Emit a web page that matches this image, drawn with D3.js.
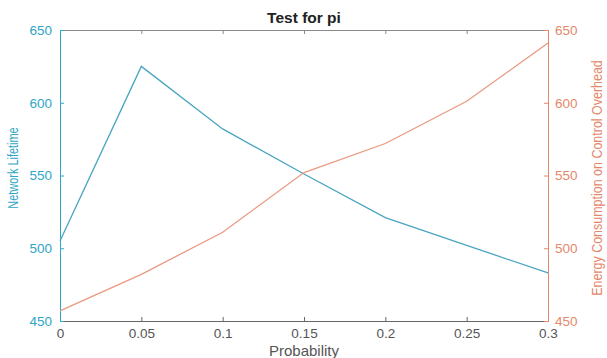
<!DOCTYPE html>
<html>
<head>
<meta charset="utf-8">
<script src="https://cdn.jsdelivr.net/npm/d3@7"></script>
<style>
  body { margin: 0; background: #fff; }
  svg { font-family: "Liberation Sans", Arial, sans-serif; }
</style>
</head>
<body>
<div id="chart"></div>
<script>
const probability = [0, 0.05, 0.1, 0.15, 0.2, 0.25, 0.3]
const lifetime = [505, 625, 582, 551, 521, 502, 483]
const energy = [457, 482, 511, 552, 572, 601, 641]
const xTicks = [0, 0.05, 0.1, 0.15, 0.2, 0.25, 0.3]
const yTicks = [450, 500, 550, 600, 650]

const width = 607, height = 358
const margin = { top: 30, right: 59, bottom: 37, left: 60 }
const blue = '#2fa6c6'
const orange = '#e4886b'

let svg = d3.select('#chart')
  .append('svg')
  .attr('width', width)
  .attr('height', height)

let x = d3.scaleLinear()
  .domain([0, 0.3])
  .range([margin.left, width - margin.right])

let yLeft = d3.scaleLinear()
  .domain([450, 650])
  .range([height - margin.bottom, margin.top])

let yRight = d3.scaleLinear()
  .domain([450, 650])
  .range([height - margin.bottom, margin.top])

// top border with ticks
svg.append('g')
  .attr('transform', `translate(0,${margin.top})`)
  .call(d3.axisTop(x).tickValues(xTicks).tickSize(-4).tickFormat(''))
  .call(g => g.selectAll('path, line').attr('stroke', '#8a8a8a'))

// bottom axis
svg.append('g')
  .attr('transform', `translate(0,${height - margin.bottom})`)
  .call(d3.axisBottom(x).tickValues(xTicks).tickSize(-4).tickPadding(7).tickFormat(d => d3.format('')(d)))
  .call(g => g.selectAll('path, line').attr('stroke', '#666'))
  .call(g => g.selectAll('text').attr('fill', '#555').attr('font-size', 13.5))

// left axis
svg.append('g')
  .attr('transform', `translate(${margin.left},0)`)
  .call(d3.axisLeft(yLeft).tickValues(yTicks).tickSize(-4).tickPadding(8))
  .call(g => g.selectAll('path, line').attr('stroke', blue))
  .call(g => g.selectAll('text').attr('fill', blue).attr('font-size', 13.5))

// right axis
svg.append('g')
  .attr('transform', `translate(${width - margin.right},0)`)
  .call(d3.axisRight(yRight).tickValues(yTicks).tickSize(-4).tickPadding(7))
  .call(g => g.selectAll('path, line').attr('stroke', orange))
  .call(g => g.selectAll('text').attr('fill', orange).attr('font-size', 13.5))

let lineLeft = d3.line()
  .x((d, i) => x(probability[i]))
  .y(d => yLeft(d))

let lineRight = d3.line()
  .x((d, i) => x(probability[i]))
  .y(d => yRight(d))

svg.append('path')
  .datum(lifetime)
  .attr('d', lineLeft)
  .attr('fill', 'none')
  .attr('stroke', '#4aa5c0')
  .attr('stroke-width', 1.3)

svg.append('path')
  .datum(energy)
  .attr('d', lineRight)
  .attr('fill', 'none')
  .attr('stroke', '#e99a80')
  .attr('stroke-width', 1.3)

// title
svg.append('text')
  .attr('x', (margin.left + width - margin.right) / 2)
  .attr('y', 23)
  .attr('text-anchor', 'middle')
  .attr('font-size', 15.5)
  .attr('font-weight', 'bold')
  .attr('fill', '#222')
  .text('Test for pi')

svg.append('text')
  .attr('x', 304)
  .attr('y', 356)
  .attr('text-anchor', 'middle')
  .attr('font-size', 15)
  .attr('fill', '#555')
  .text('Probability')

// the reference looks narrower along the vertical titles
svg.append('text')
  .attr('transform', `translate(18,168) rotate(-90) scale(0.84,1.1)`)
  .attr('text-anchor', 'middle')
  .attr('font-size', 13)
  .attr('fill', blue)
  .text('Network Lifetime')

svg.append('text')
  .attr('transform', `translate(602,178) rotate(-90) scale(0.96,1.1)`)
  .attr('text-anchor', 'middle')
  .attr('font-size', 13)
  .attr('fill', orange)
  .text('Energy Consumption on Control Overhead')
</script>
</body>
</html>
